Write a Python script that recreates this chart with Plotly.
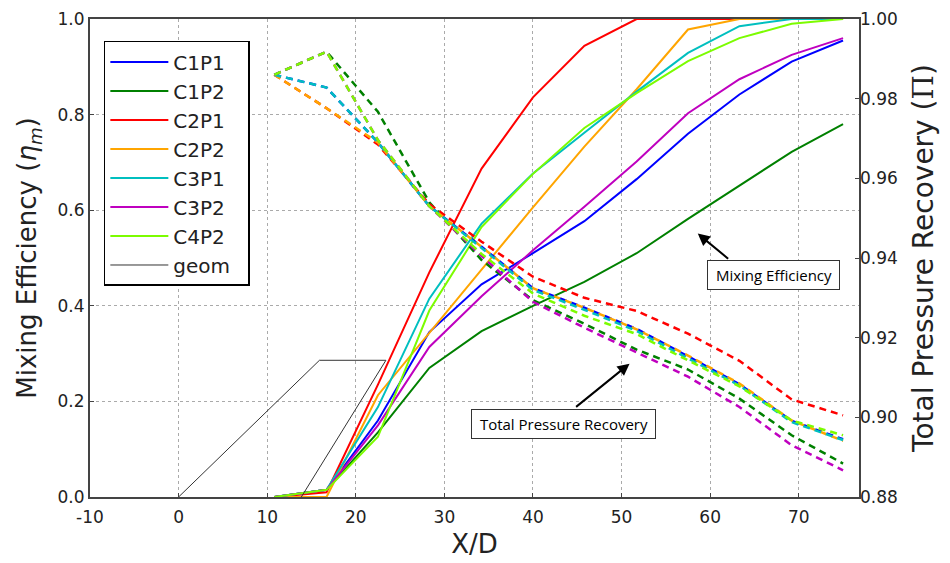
import plotly.graph_objects as go

# ---- data ----
xd = [10.8, 16.7, 22.5, 28.3, 34.2, 40.0, 45.8, 51.7, 57.5, 63.3, 69.2, 75.0]
names = ["C1P1", "C1P2", "C2P1", "C2P2", "C3P1", "C3P2", "C4P2"]
colors = ["#0000ff", "#008000", "#ff0000", "#ffa500", "#00bfbf", "#bf00bf", "#7cfc00"]

mix_C1P1 = [0, 0.015, 0.16, 0.345, 0.445, 0.51, 0.577, 0.665, 0.76, 0.842, 0.911, 0.955]
mix_C1P2 = [0, 0.015, 0.135, 0.27, 0.347, 0.40, 0.45, 0.51, 0.582, 0.652, 0.722, 0.78]
mix_C2P1 = [0, 0.01, 0.235, 0.47, 0.687, 0.836, 0.944, 1.0, 1.0, 1.0, 1.0, 1.0]
mix_C2P2 = [0, 0.0, 0.213, 0.343, 0.476, 0.606, 0.733, 0.853, 0.978, 1.0, 1.0, 1.0]
mix_C3P1 = [0, 0.015, 0.188, 0.415, 0.572, 0.677, 0.762, 0.848, 0.929, 0.985, 1.0, 1.0]
mix_C3P2 = [0, 0.015, 0.15, 0.314, 0.42, 0.516, 0.607, 0.702, 0.803, 0.874, 0.925, 0.96]
mix_C4P2 = [0, 0.015, 0.126, 0.39, 0.565, 0.676, 0.772, 0.845, 0.912, 0.96, 0.99, 1.0]

tpr_C1P1 = [0.986, 0.9828, 0.969, 0.953, 0.9428, 0.9324, 0.9275, 0.9222, 0.9153, 0.9083, 0.8991, 0.8945]
tpr_C1P2 = [0.986, 0.9918, 0.9767, 0.954, 0.9395, 0.9294, 0.9235, 0.917, 0.912, 0.9047, 0.8955, 0.8884]
tpr_C2P1 = [0.986, 0.9776, 0.9685, 0.9535, 0.9441, 0.9353, 0.930, 0.9267, 0.921, 0.9142, 0.9045, 0.9005]
tpr_C2P2 = [0.986, 0.9776, 0.969, 0.953, 0.9428, 0.9324, 0.9275, 0.9221, 0.9155, 0.9085, 0.8992, 0.8941]
tpr_C3P1 = [0.986, 0.9828, 0.969, 0.953, 0.9425, 0.932, 0.927, 0.9217, 0.9148, 0.908, 0.8988, 0.8943]
tpr_C3P2 = [0.986, 0.9918, 0.9696, 0.953, 0.9405, 0.929, 0.9225, 0.9162, 0.9102, 0.9026, 0.893, 0.8867]
tpr_C4P2 = [0.986, 0.9918, 0.9696, 0.953, 0.941, 0.9311, 0.9255, 0.9209, 0.9143, 0.9078, 0.8992, 0.8955]

geom_x = [0, 15.9, 23.4, 13.85]
geom_y = [0, 0.286, 0.286, 0]

x_ticks = [-10, 0, 10, 20, 30, 40, 50, 60, 70]
x_ticktext = ["-10", "0", "10", "20", "30", "40", "50", "60", "70"]
y_ticks = [0.0, 0.2, 0.4, 0.6, 0.8, 1.0]
y2_ticks = [0.88, 0.90, 0.92, 0.94, 0.96, 0.98, 1.00]

mix = [mix_C1P1, mix_C1P2, mix_C2P1, mix_C2P2, mix_C3P1, mix_C3P2, mix_C4P2]
tpr = [tpr_C1P1, tpr_C1P2, tpr_C2P1, tpr_C2P2, tpr_C3P1, tpr_C3P2, tpr_C4P2]

pad = "\u00a0" * 2
fig = go.Figure()
for n, c, m in zip(names, colors, mix):
    fig.add_trace(go.Scatter(x=xd, y=m, mode="lines", name=n + pad,
                             line=dict(color=c, width=2)))
for n, c, t in zip(names, colors, tpr):
    fig.add_trace(go.Scatter(x=xd, y=t, mode="lines", name=n, showlegend=False,
                             yaxis="y2", line=dict(color=c, width=2.5, dash="7px,5px")))
fig.add_trace(go.Scatter(x=geom_x, y=geom_y, mode="lines", name="geom" + pad,
                         line=dict(color="#333333", width=1)))

tick_font = dict(family="DejaVu Sans", size=17, color="#222")
fig.update_layout(
    width=950, height=563,
    margin=dict(l=90, r=91, t=19, b=66),
    plot_bgcolor="white", paper_bgcolor="white",
    showlegend=True,
    legend=dict(x=0.018, y=0.954, xanchor="left", yanchor="top",
                bgcolor="white", bordercolor="black", borderwidth=1.5,
                font=dict(family="DejaVu Sans", size=20, color="#222"),
                itemwidth=58),
    xaxis=dict(range=[-10, 76.8], tickvals=x_ticks, ticktext=x_ticktext, tickfont=tick_font,
               showgrid=True, gridcolor="#aaaaaa", griddash="dot", gridwidth=1,
               showline=True, linecolor="#444", linewidth=2, mirror=True,
               ticks="inside", ticklen=4, zeroline=False, ticklabelstandoff=4,
               automargin=False,
               title=dict(text="X/D", font=dict(family="DejaVu Sans", size=26, color="#222"),
                          standoff=8)),
    yaxis=dict(range=[0, 1], tickvals=y_ticks, tickformat=".1f", tickfont=tick_font,
               showgrid=True, gridcolor="#aaaaaa", griddash="dot", gridwidth=1,
               showline=True, linecolor="#444", linewidth=2, mirror=True,
               ticks="inside", ticklen=4, zeroline=False, automargin=False,
               title=dict(text="Mixing Efficiency (<i>η</i><sub><i>m</i></sub>)",
                          font=dict(family="DejaVu Sans", size=26, color="#222"),
                          standoff=13)),
    yaxis2=dict(range=[0.88, 1.0], tickvals=y2_ticks, tickformat=".2f", tickfont=tick_font,
                overlaying="y", side="right", showgrid=False, zeroline=False,
                ticks="inside", ticklen=4, showline=False, automargin=False,
                title=dict(text="Total Pressure Recovery (<span style='font-family:DejaVu Serif'>Π</span>)",
                           font=dict(family="DejaVu Sans", size=28, color="#222"),
                           standoff=16)),
)

ann_font = dict(family="Open Sans", size=15, color="black")
sp = "\u00a0"
fig.add_annotation(x=67.1, y=0.465, xref="x", yref="y", text=sp + "Mixing Efficiency" + sp,
                   showarrow=False, font=ann_font, bgcolor="white",
                   bordercolor="#333", borderwidth=1, borderpad=4)
fig.add_annotation(x=58.6, y=0.551, ax=62.2, ay=0.496, xref="x", yref="y",
                   axref="x", ayref="y", text="", showarrow=True,
                   arrowhead=2, arrowsize=1.2, arrowwidth=2, arrowcolor="black")
fig.add_annotation(x=43.45, y=0.152, xref="x", yref="y", text=sp + "Total Pressure Recovery" + sp,
                   showarrow=False, font=ann_font, bgcolor="white",
                   bordercolor="#333", borderwidth=1, borderpad=4)
fig.add_annotation(x=50.9, y=0.279, ax=44.7, ay=0.186, xref="x", yref="y",
                   axref="x", ayref="y", text="", showarrow=True,
                   arrowhead=2, arrowsize=1.2, arrowwidth=2, arrowcolor="black")

fig.write_html("out.html")
